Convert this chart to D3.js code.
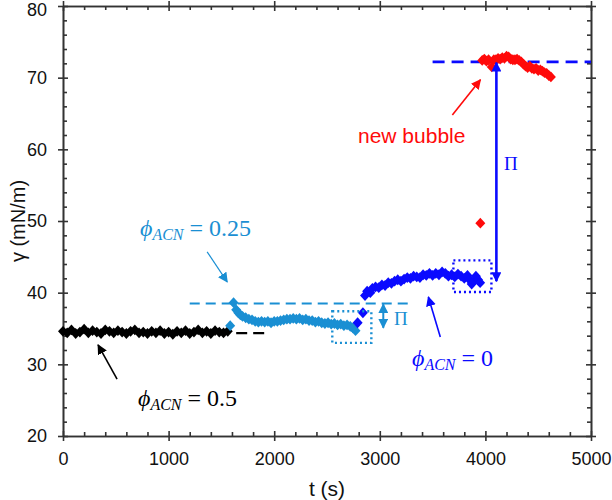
<!DOCTYPE html>
<html><head><meta charset="utf-8">
<script src="https://cdn.jsdelivr.net/npm/d3@7"></script>
<style>body{margin:0;background:#fff}svg{display:block}</style>
</head><body>
<script>
// ---- data ----
const blackT = [0,40,80,120,160,200,240,280,320,360,400,440,480,520,560,600,640,680,720,760,800,840,880,920,960,1000,1040,1080,1120,1160,1200,1240,1280,1320,1360,1400,1440,1480,1520,1560];
const blackY = [34.6,34.4,34.8,34.3,34.5,34.9,34.4,34.7,34.5,34.3,34.8,34.6,34.4,34.7,34.5,34.3,34.6,34.8,34.4,34.5,34.3,34.6,34.4,34.7,34.3,34.5,34.2,34.6,34.4,34.7,34.3,34.5,34.8,34.4,34.6,34.3,34.7,34.5,34.4,34.6];
const lightT = [1583,1615,1640,1660,1680,1700,1730,1760,1790,1820,1850,1880,1910,1940,1970,2000,2030,2060,2090,2120,2150,2180,2210,2240,2270,2300,2330,2360,2390,2420,2450,2480,2510,2540,2570,2600,2630,2660,2690,2720,2745,2770];
const lightY = [35.4,38.6,37.6,37.2,36.9,36.7,36.5,36.3,36.2,36.0,35.9,36.0,35.9,36.0,35.8,36.0,36.0,36.1,36.2,36.3,36.3,36.4,36.3,36.4,36.2,36.3,36.1,36.1,35.9,36.0,35.8,35.7,35.8,35.6,35.7,35.5,35.6,35.4,35.5,35.3,35.1,34.7];
const blueT = [2790,2840,2860,2880,2910,2930,2960,2990,3020,3050,3080,3110,3140,3170,3200,3230,3260,3290,3320,3350,3380,3410,3440,3470,3500,3530,3560,3590,3620,3650,3680,3710,3740,3770,3800,3830,3850,3870,3890,3910,3930,3950];
const blueY = [35.8,37.2,39.6,40.2,40.0,40.6,40.8,40.7,41.1,41.0,41.4,41.3,41.6,41.8,41.6,41.9,42.1,42.0,42.3,42.2,42.1,42.5,42.4,42.7,42.4,42.7,42.5,42.9,42.7,42.3,42.5,42.2,42.6,42.3,42.0,42.4,41.8,41.2,41.6,42.3,41.8,41.4];
const redT = [3952,3970,3990,4010,4030,4060,4080,4100,4120,4140,4160,4180,4200,4220,4240,4260,4280,4300,4320,4340,4360,4380,4400,4420,4440,4460,4480,4500,4520,4540,4560,4580,4600,4620];
const redY = [49.7,72.4,72.6,72.3,72.5,71.5,72.5,72.5,72.7,72.6,72.8,72.7,73.0,72.9,72.6,72.5,72.5,72.6,72.4,72.2,71.9,71.6,71.4,71.6,71.3,71.2,71.3,71.0,71.1,70.9,70.7,70.6,70.3,70.1];
const xMajor = [0,1000,2000,3000,4000,5000];
const yMajor = [20,30,40,50,60,70,80];
const xMinor = [200,400,600,800,1200,1400,1600,1800,2200,2400,2600,2800,3200,3400,3600,3800,4200,4400,4600,4800];
const yMinor = [22,24,26,28,32,34,36,38,42,44,46,48,52,54,56,58,62,64,66,68,72,74,76,78];

const W = 612, H = 500;
const x = d3.scaleLinear([0,5000],[63,591]);
const y = d3.scaleLinear([20,80],[436,6]);
const C = {black:"#000000", light:"#1a8fd3", blue:"#0a0aff", red:"#ff0a0a", axis:"#333333"};

const svg = d3.select("body").append("svg").attr("width",W).attr("height",H);
const defs = svg.append("defs");
function marker(id,color){
  defs.append("marker").attr("id",id).attr("viewBox","0 0 10 10").attr("refX",9).attr("refY",5)
    .attr("markerWidth",10).attr("markerHeight",10).attr("markerUnits","userSpaceOnUse").attr("orient","auto-start-reverse")
    .append("path").attr("d","M0,0 L10,5 L0,10 Z").attr("fill",color);
}
marker("aBlack",C.black); marker("aLight",C.light); marker("aBlue",C.blue); marker("aRed",C.red);

// ---- axes ----
const fontAx = "'Liberation Sans', Arial, sans-serif";
const fmt = d3.format("d");
function styleAxis(g){ g.selectAll("path.domain").attr("stroke",C.axis).attr("stroke-width",1.6);
  g.selectAll(".tick line").attr("stroke",C.axis).attr("stroke-width",1.6);
  g.selectAll(".tick text").attr("font-family",fontAx).attr("font-size",18).attr("fill","#111"); }
const gB = svg.append("g").attr("transform",`translate(0,${y(20)})`)
  .call(d3.axisBottom(x).tickValues(xMajor).tickFormat(fmt).tickSize(5).tickPadding(11).tickSizeOuter(0)).call(styleAxis);
gB.selectAll(".tick line").attr("y1",-5);
svg.append("g").attr("transform",`translate(0,${y(20)})`)
  .call(d3.axisBottom(x).tickValues(xMinor).tickSize(-4).tickFormat("").tickSizeOuter(0)).call(styleAxis);
const gT = svg.append("g").attr("transform",`translate(0,${y(80)})`)
  .call(d3.axisTop(x).tickValues(xMajor).tickSize(5).tickFormat("").tickSizeOuter(0)).call(styleAxis);
gT.selectAll(".tick line").attr("y1",5);
svg.append("g").attr("transform",`translate(0,${y(80)})`)
  .call(d3.axisTop(x).tickValues(xMinor).tickSize(-4).tickFormat("").tickSizeOuter(0)).call(styleAxis);
const gL = svg.append("g").attr("transform",`translate(${x(0)},0)`)
  .call(d3.axisLeft(y).tickValues(yMajor).tickFormat(fmt).tickSize(5).tickPadding(11).tickSizeOuter(0)).call(styleAxis);
gL.selectAll(".tick line").attr("x1",5);
gL.selectAll(".tick text").filter(d=>d===80).attr("dy","0.5em");
svg.append("g").attr("transform",`translate(${x(0)},0)`)
  .call(d3.axisLeft(y).tickValues(yMinor).tickSize(-4).tickFormat("").tickSizeOuter(0)).call(styleAxis);
const gR = svg.append("g").attr("transform",`translate(${x(5000)},0)`)
  .call(d3.axisRight(y).tickValues(yMajor).tickSize(5).tickFormat("").tickSizeOuter(0)).call(styleAxis);
gR.selectAll(".tick line").attr("x1",-5);
svg.append("g").attr("transform",`translate(${x(5000)},0)`)
  .call(d3.axisRight(y).tickValues(yMinor).tickSize(-4).tickFormat("").tickSizeOuter(0)).call(styleAxis);

svg.append("text").attr("x",(x(0)+x(5000))/2).attr("y",496).attr("text-anchor","middle")
  .attr("font-family",fontAx).attr("font-size",21).attr("fill","#111").text("t (s)");
svg.append("text").attr("transform",`translate(25,${(y(20)+y(80))/2}) rotate(-90)`).attr("text-anchor","middle")
  .attr("font-family",fontAx).attr("font-size",20).attr("fill","#111").text("γ (mN/m)");

// ---- reference lines ----
function hline(t0,t1,v,color,dash,w){
  svg.append("line").attr("x1",x(t0)).attr("x2",x(t1)).attr("y1",y(v)).attr("y2",y(v))
    .attr("stroke",color).attr("stroke-width",w).attr("stroke-dasharray",dash);
}
hline(1640,1960,34.35,C.black,"11,6",2.2);
hline(1200,3300,38.5,C.light,"10,6",2);
hline(3500,5000,72.2,C.blue,"12,7",2.6);

// ---- markers ----
const diamond = "M0,-5.4 L5,0 L0,5.4 L-5,0 Z";
function series(T,V,color){
  svg.append("g").selectAll("path").data(T.map((t,i)=>[t,V[i]])).join("path")
    .attr("transform",d=>`translate(${x(d[0])},${y(d[1])})`).attr("d",diamond).attr("fill",color);
}
series(blackT,blackY,C.black);
series(lightT,lightY,C.light);
series(blueT,blueY,C.blue);
series(redT,redY,C.red);

// ---- dotted boxes ----
function box(t0,t1,v0,v1,color){
  svg.append("rect").attr("x",x(t0)).attr("y",y(v1)).attr("width",x(t1)-x(t0)).attr("height",y(v0)-y(v1))
    .attr("fill","none").attr("stroke",color).attr("stroke-width",2.4).attr("stroke-dasharray","2,3");
}
box(2550,2920,33.0,37.4,C.light);
box(3697,4057,40.1,44.5,C.blue);

// ---- arrows ----
function arrow(t0,v0,t1,v1,color,id,w,both){
  const l = svg.append("line").attr("x1",x(t0)).attr("y1",y(v0)).attr("x2",x(t1)).attr("y2",y(v1))
    .attr("stroke",color).attr("stroke-width",w).attr("marker-end",`url(#${id})`);
  if(both) l.attr("marker-start",`url(#${id})`);
}
arrow(512,27.95,332,32.7,C.black,"aBlack",1.6,false);
arrow(1365,45.7,1555,41.5,C.light,"aLight",1.2,false);
arrow(3573,33.8,3460,39.4,C.blue,"aBlue",1.6,false);
arrow(3687,64.8,3953,69.7,C.red,"aRed",1.6,false);
arrow(3033,38.4,3033,35.1,C.light,"aLight",2,true);
arrow(4104,72.1,4104,41.6,C.blue,"aBlue",2.6,true);

// ---- labels ----
const serif = "'Liberation Serif', 'DejaVu Serif', serif";
function phiLabel(px,py,val,color){
  const t = svg.append("text").attr("x",px).attr("y",py).attr("fill",color).attr("font-family",serif).attr("font-size",24);
  t.append("tspan").attr("font-style","italic").text("ϕ");
  t.append("tspan").attr("font-style","italic").attr("font-size",16).attr("dy",4).text("ACN");
  t.append("tspan").attr("dy",-4).text(" = " + val);
}
phiLabel(138,406,"0.5",C.black);
phiLabel(140,236,"0.25",C.light);
phiLabel(412,366,"0",C.blue);
svg.append("text").attr("x",358).attr("y",143).attr("fill",C.red).attr("font-family",fontAx).attr("font-size",21).text("new bubble");
svg.append("text").attr("x",394).attr("y",325).attr("fill",C.light).attr("font-family",serif).attr("font-size",19).text("Π");
svg.append("text").attr("x",504).attr("y",170).attr("fill",C.blue).attr("font-family",serif).attr("font-size",19).text("Π");
</script>
</body></html>
